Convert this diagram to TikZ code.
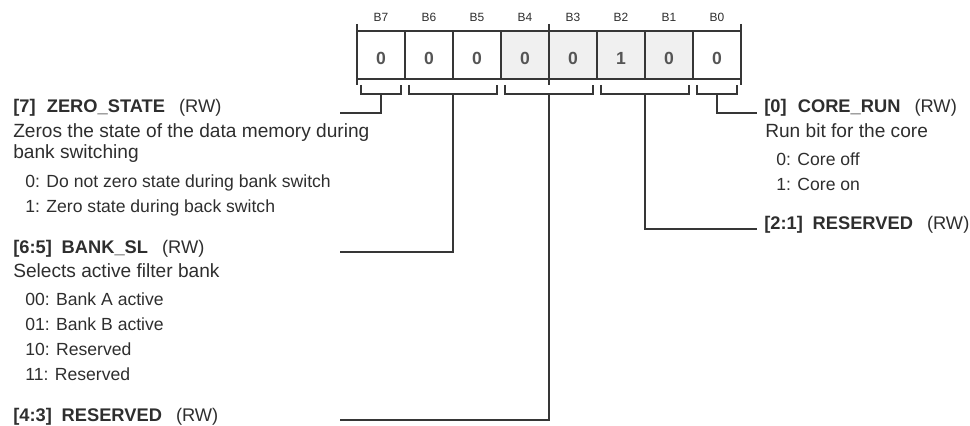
\documentclass[tikz,border=0pt]{standalone}
\usepackage{fontspec}
\setmainfont{Liberation Sans}
\usepackage{xcolor}
\usepackage{tikz}
\usetikzlibrary{positioning,calc}
\definecolor{regline}{HTML}{363636}
\definecolor{regtext}{HTML}{2E2E2E}
\definecolor{cellgray}{HTML}{F0F0F0}
\definecolor{valgray}{HTML}{555555}

\begin{document}
\begin{tikzpicture}[x=0.025cm, y=-0.025cm,
  wire/.style={draw=regline, line width=1pt},
  cell/.style={draw=regline, line width=1pt, minimum width=1.2cm, minimum height=1.2cm, inner sep=0pt},
  bitlbl/.style={font=\fontsize{8.5}{9}\selectfont, text=regtext, inner sep=0pt},
  bitval/.style={font=\fontsize{12.5}{14}\selectfont\bfseries, text=valgray, inner sep=0pt},
  title/.style={anchor=base west, inner sep=0pt, font=\fontsize{13}{14}\selectfont, text=regtext},
  desc/.style={anchor=base west, inner sep=0pt, font=\fontsize{13.6}{15}\selectfont, text=regtext},
  item/.style={anchor=base west, inner sep=0pt, font=\fontsize{12.5}{14}\selectfont, text=regtext}]
  \useasboundingbox (0,0) rectangle (970,426);

  % register cells
  \foreach \b/\v/\f in {7/0/white,6/0/white,5/0/white,4/0/cellgray,3/0/cellgray,2/1/cellgray,1/0/cellgray,0/0/white}{
    \node[cell, fill=\f] (c\b) at ({381+48*(7-\b)},55) {};
    \node[bitval] (v\b) at ({381+48*(7-\b)},58.5) {\v};
    \node[bitlbl] (l\b) at ({381+48*(7-\b)},17) {B\b};
  }
  \draw[wire] (357,24) -- (357,85);
  \draw[wire] (549,24) -- (549,85);
  \draw[wire] (741,24) -- (741,85);

  % brackets under the fields
  \foreach \nm/\xa/\xb in {b7/361/401,b65/409/497,b43/505/593,b21/601/689,b0/697/737}{
    \draw[wire] (\xa,85) |- (\xb,94) -- (\xb,85);
    \coordinate (\nm) at ({(\xa+\xb)/2},94);
  }

  % left fields
  \node[title] (zs) at (13,113) {\textbf{[7]}\hspace{8pt}\textbf{ZERO\_STATE}\hspace{10pt}(RW)};
  \node[desc] (zsd1) at (13,137) {Zeros the state of the data memory during};
  \node[desc] (zsd2) at (13,158) {bank switching};
  \node[item] (zs0) at (25,187) {0: Do not zero state during bank switch};
  \node[item] (zs1) at (25,212) {1: Zero state during back switch};

  \node[title] (bs) at (13,253) {\textbf{[6:5]}\hspace{7pt}\textbf{BANK\_SL}\hspace{10pt}(RW)};
  \node[desc] (bsd) at (13,277) {Selects active filter bank};
  \node[item] (bs0) at (25,305) {00: Bank A active};
  \node[item] (bs1) at (25,330) {01: Bank B active};
  \node[item] (bs2) at (25,355) {10: Reserved};
  \node[item] (bs3) at (25,380) {11: Reserved};

  \node[title] (rs43) at (13,421) {\textbf{[4:3]}\hspace{7pt}\textbf{RESERVED}\hspace{10pt}(RW)};

  % right fields
  \node[title] (cr) at (764,113) {\textbf{[0]}\hspace{8pt}\textbf{CORE\_RUN}\hspace{10pt}(RW)};
  \node[desc] (crd) at (765,137) {Run bit for the core};
  \node[item] (cr0) at (776,165) {0: Core off};
  \node[item] (cr1) at (776,190) {1: Core on};

  \node[title] (rs21) at (764,229) {\textbf{[2:1]}\hspace{7pt}\textbf{RESERVED}\hspace{10pt}(RW)};

  % connectors
  \coordinate (zsend) at (340,113);
  \coordinate (bsend) at (340,252);
  \coordinate (rs43end) at (340,420);
  \draw[wire] (b7) |- (zsend);
  \draw[wire] (b65) |- (bsend);
  \draw[wire] (b43) |- (rs43end);
  \draw[wire] (b0) |- ($(cr.base west)+(-7,0)$);
  \draw[wire] (b21) |- ($(rs21.base west)+(-7,0)$);
\end{tikzpicture}
\end{document}
